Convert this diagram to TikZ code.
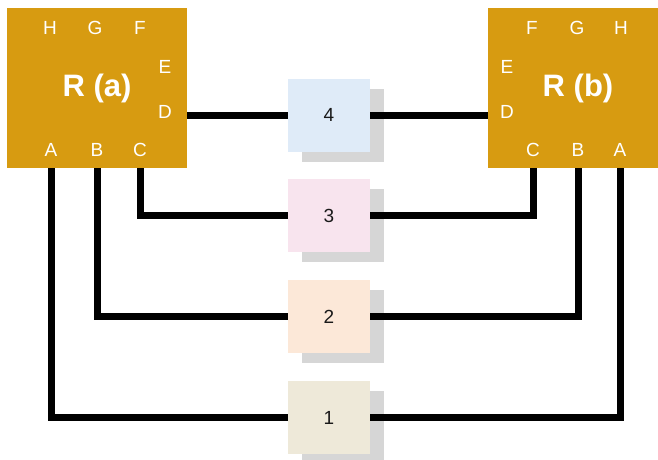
\documentclass[tikz,border=0pt]{standalone}
\usepackage{fontspec}
\setmainfont{Liberation Sans}
\usetikzlibrary{positioning,shadows}
\definecolor{routergold}{HTML}{D79B11}
\definecolor{linkblue}{HTML}{DFEBF8}
\definecolor{linkpink}{HTML}{F8E4EE}
\definecolor{linkpeach}{HTML}{FCE8D8}
\definecolor{linkbeige}{HTML}{EEE9D9}
\definecolor{shadowgray}{HTML}{D6D6D6}
\begin{document}
\begin{tikzpicture}[x=1pt, y=-1pt,
router/.style={rectangle, fill=routergold, minimum width=180pt, minimum height=160pt, text=white, font=\fontsize{31}{36}\selectfont\bfseries},
port/.style={text=white, inner sep=0pt, font=\fontsize{19}{22}\selectfont},
link/.style={rectangle, minimum width=82pt, minimum height=73pt, text=black!90, font=\fontsize{19}{22}\selectfont, drop shadow={shadow xshift=14pt, shadow yshift=-10pt, fill=shadowgray, opacity=1}},
wire/.style={line width=7pt, black}
]
\clip (0,0) rectangle (658,460);

% Routers
\node[router] (ra) at (97,88) {R (a)};
\node[router] (rb) at (578,88) {R (b)};

% Ports of R (a)
\node[port] (pa-H) at (50,28) {H};
\node[port] (pa-G) at (95,28) {G};
\node[port] (pa-F) at (140,28) {F};
\node[port] (pa-E) at (165,67) {E};
\node[port] (pa-D) at (165,112) {D};
\node[port] (pa-A) at (51,150) {A};
\node[port] (pa-B) at (97,150) {B};
\node[port] (pa-C) at (140,150) {C};

% Ports of R (b)
\node[port] (pb-F) at (532,28) {F};
\node[port] (pb-G) at (577,28) {G};
\node[port] (pb-H) at (621,28) {H};
\node[port] (pb-E) at (507,67) {E};
\node[port] (pb-D) at (507,112) {D};
\node[port] (pb-C) at (533,150) {C};
\node[port] (pb-B) at (578,150) {B};
\node[port] (pb-A) at (620,150) {A};

% Links
\node[link, fill=linkblue] (l4) at (329,115) {4};
\node[link, fill=linkpink, below=27.5pt of l4] (l3) {3};
\node[link, fill=linkpeach, below=27.5pt of l3] (l2) {2};
\node[link, fill=linkbeige, below=27.5pt of l2] (l1) {1};

% Connections
\draw[wire] (l4.west -| ra.east) -- (l4.west);
\draw[wire] (l4.east) -- (l4.east -| rb.west);

\draw[wire] (pa-C |- ra.south) |- (l3.west);
\draw[wire] (l3.east) -| (pb-C |- rb.south);

\draw[wire] (pa-B |- ra.south) |- (l2.west);
\draw[wire] (l2.east) -| (pb-B |- rb.south);

\draw[wire] (pa-A |- ra.south) |- (l1.west);
\draw[wire] (l1.east) -| (pb-A |- rb.south);

\end{tikzpicture}
\end{document}
